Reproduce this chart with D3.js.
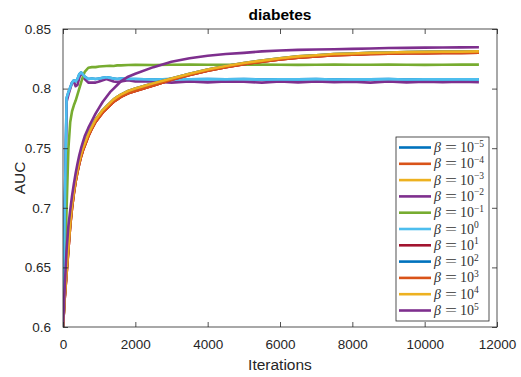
<!DOCTYPE html>
<html><head><meta charset="utf-8">
<script src="https://cdn.jsdelivr.net/npm/d3@7"></script>
<style>body{margin:0;background:#fff}svg{display:block}</style>
</head><body>
<script>
const iterations = [0,50,100,150,200,250,300,350,400,450,500,550,600,700,800,900,1000,1100,1200,1300,1400,1500,1600,1800,2000,2500,3000,3500,4000,4500,5000,5500,6000,6500,7000,7500,8000,8500,9000,9500,10000,10500,11000,11500];

// fast group
const fastBlue = [0.600,0.700,0.792,0.797,0.801,0.805,0.807,0.806,0.808,0.812,0.8135,0.812,0.810,0.808,0.8085,0.808,0.8085,0.809,0.8095,0.809,0.8085,0.808,0.8085,0.808,0.808,0.8075,0.808,0.8078,0.808,0.8077,0.808,0.8076,0.8079,0.8077,0.808,0.8076,0.8079,0.8077,0.808,0.8076,0.8079,0.8077,0.8079,0.8077];
const fastPurple = [0.600,0.690,0.789,0.795,0.800,0.805,0.806,0.802,0.803,0.809,0.813,0.811,0.808,0.805,0.805,0.805,0.806,0.807,0.808,0.807,0.806,0.8055,0.806,0.807,0.806,0.806,0.805,0.806,0.8052,0.806,0.8057,0.805,0.806,0.8052,0.806,0.8054,0.8058,0.805,0.806,0.8052,0.8058,0.8053,0.8058,0.8053];
const green = [0.600,0.640,0.700,0.750,0.772,0.781,0.786,0.790,0.795,0.800,0.805,0.810,0.814,0.8175,0.818,0.818,0.8185,0.8188,0.819,0.8192,0.819,0.8195,0.8195,0.8198,0.820,0.8198,0.820,0.8201,0.820,0.8199,0.820,0.8201,0.820,0.8199,0.820,0.8201,0.820,0.820,0.8201,0.820,0.8199,0.820,0.8201,0.8201];
// slow group
const slowOrange = [0.600,0.625,0.645,0.665,0.685,0.700,0.712,0.722,0.730,0.737,0.743,0.748,0.752,0.760,0.7665,0.772,0.776,0.780,0.783,0.786,0.789,0.791,0.793,0.796,0.798,0.8025,0.8075,0.8115,0.815,0.818,0.8205,0.8225,0.8245,0.826,0.827,0.828,0.8285,0.829,0.8293,0.8296,0.8298,0.830,0.830,0.8302];
const slowYellow = [0.600,0.627,0.648,0.668,0.688,0.703,0.714,0.724,0.732,0.739,0.745,0.750,0.754,0.762,0.768,0.774,0.778,0.782,0.785,0.788,0.791,0.793,0.795,0.798,0.800,0.8045,0.8085,0.8125,0.816,0.819,0.8215,0.8235,0.8255,0.827,0.828,0.829,0.8295,0.830,0.8303,0.8306,0.8308,0.831,0.831,0.8312];
const slowPurple = [0.600,0.635,0.665,0.685,0.698,0.710,0.720,0.729,0.737,0.744,0.750,0.755,0.760,0.767,0.773,0.779,0.784,0.789,0.793,0.797,0.800,0.803,0.806,0.810,0.8125,0.818,0.8225,0.8255,0.8275,0.829,0.830,0.8312,0.832,0.8325,0.8328,0.833,0.8333,0.8337,0.834,0.8342,0.8344,0.8345,0.8346,0.8347];

const betaExponents = ["−5","−4","−3","−2","−1","0","1","2","3","4","5"];
const seriesValues = [fastBlue, slowOrange, slowYellow, fastPurple, green, fastBlue, slowOrange, slowYellow, slowOrange, slowYellow, slowPurple];
const colors = ["#0072BD","#D95319","#EDB120","#7E2F8E","#77AC30","#4DBEEE","#A2142F","#0072BD","#D95319","#EDB120","#7E2F8E"];
const xTicks = [0,2000,4000,6000,8000,10000,12000];
const yTicks = [0.6,0.65,0.7,0.75,0.8,0.85];

const W = 521, H = 377;
const L = 63, R = 497, T = 29, B = 327;
const svg = d3.select("body").append("svg").attr("width", W).attr("height", H);
const x = d3.scaleLinear().domain([0,12000]).range([L,R]);
const y = d3.scaleLinear().domain([0.6,0.85]).range([B,T]);
const axisColor = "#262626";
const font = "'Liberation Sans', Arial, sans-serif";

svg.append("defs").append("clipPath").attr("id","clip").append("rect")
  .attr("x",L).attr("y",T).attr("width",R-L).attr("height",B-T);

const line = d3.line().x((d,i)=>x(iterations[i])).y(d=>y(d));
const g = svg.append("g").attr("clip-path","url(#clip)");
seriesValues.forEach((vals,k)=>{
  g.append("path").datum(vals).attr("d",line).attr("fill","none")
    .attr("stroke",colors[k]).attr("stroke-width",2.6).attr("stroke-linejoin","round");
});

function styleAxis(sel){
  sel.select(".domain").remove();
  sel.selectAll("line").attr("stroke",axisColor).attr("stroke-width",0.8);
  sel.selectAll("text").attr("fill",axisColor).style("font-family",font).style("font-size","13.5px");
}
svg.append("g").attr("transform",`translate(0,${B})`)
  .call(d3.axisBottom(x).tickValues(xTicks).tickSize(-5).tickPadding(12).tickFormat(d3.format("d")))
  .call(styleAxis);
svg.append("g").attr("transform",`translate(0,${T})`)
  .call(d3.axisTop(x).tickValues(xTicks).tickSize(-5).tickFormat(""))
  .call(styleAxis);
svg.append("g").attr("transform",`translate(${L},0)`)
  .call(d3.axisLeft(y).tickValues(yTicks).tickSize(-5).tickPadding(12).tickFormat(d=>String(d)))
  .call(styleAxis);
svg.append("g").attr("transform",`translate(${R},0)`)
  .call(d3.axisRight(y).tickValues(yTicks).tickSize(-5).tickFormat(""))
  .call(styleAxis);

svg.append("rect").attr("x",L).attr("y",T).attr("width",R-L).attr("height",B-T)
  .attr("fill","none").attr("stroke",axisColor).attr("stroke-width",0.8);

svg.append("text").attr("x",(L+R)/2).attr("y",19.5).attr("text-anchor","middle")
  .style("font-family",font).style("font-size","15.5px").style("font-weight","bold").attr("fill","#000").text("diabetes");
svg.append("text").attr("x",(L+R)/2).attr("y",369.5).attr("text-anchor","middle")
  .style("font-family",font).style("font-size","15.5px").attr("fill",axisColor).text("Iterations");
svg.append("text").attr("transform",`translate(24.5,${(T+B)/2}) rotate(-90)`).attr("text-anchor","middle")
  .style("font-family",font).style("font-size","15.5px").attr("fill",axisColor).text("AUC");

// legend
const lg = svg.append("g");
lg.append("rect").attr("x",396).attr("y",137).attr("width",93).attr("height",184)
  .attr("fill","#fff").attr("stroke",axisColor).attr("stroke-width",0.8);
const serif = "'Liberation Serif','DejaVu Serif',serif";
betaExponents.forEach((e,k)=>{
  const yy = 147.5 + k*16.3;
  lg.append("line").attr("x1",399).attr("x2",431).attr("y1",yy).attr("y2",yy)
    .attr("stroke",colors[k]).attr("stroke-width",2.6);
  const t = lg.append("text").attr("y",yy+4.5)
    .style("font-family",serif).style("font-size","14px").attr("fill","#333");
  t.append("tspan").attr("x",434).style("font-style","italic").text("β");
  t.append("tspan").attr("x",445).attr("textLength",12).attr("lengthAdjust","spacingAndGlyphs").text("=");
  t.append("tspan").attr("x",460).text("10");
  t.append("tspan").attr("dy",-5.5).style("font-size","9.5px").text(e);
});
</script>
</body></html>
